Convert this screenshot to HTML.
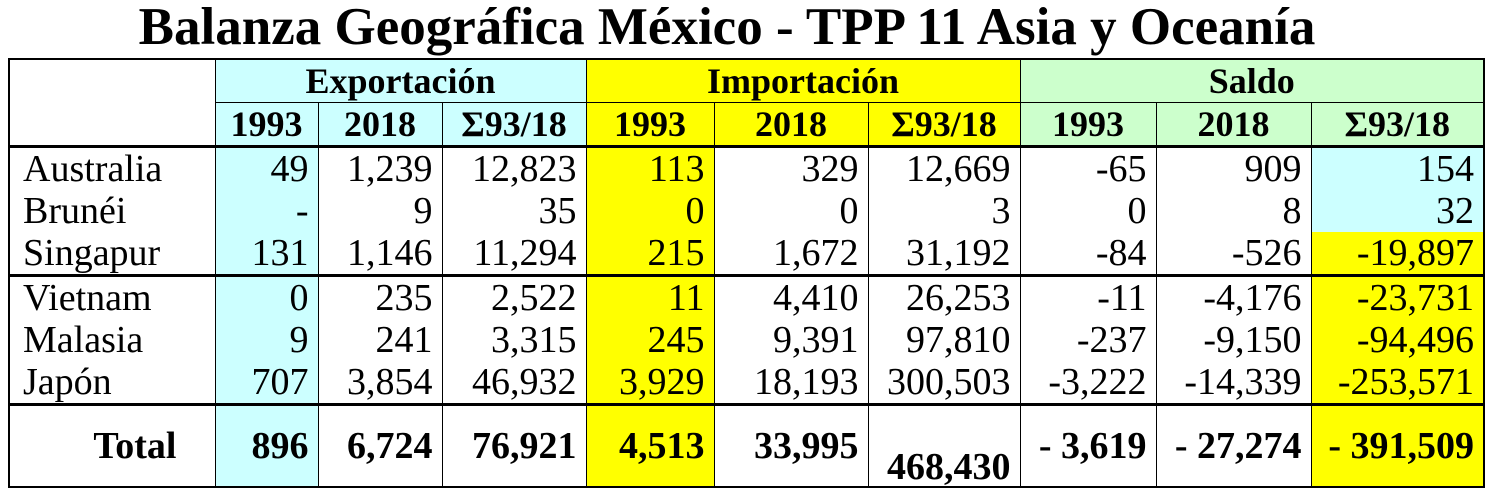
<!DOCTYPE html>
<html><head><meta charset="utf-8"><style>
html,body{margin:0;padding:0;background:#fff;width:1490px;height:498px;overflow:hidden}
body{font-family:"Liberation Serif",serif;color:#000;position:relative}
.t{position:absolute;left:-18px;top:-4px;width:1490px;text-align:center;font-weight:bold;font-size:53px;line-height:62px}
table{position:absolute;left:8px;top:58px;border-collapse:collapse;table-layout:fixed}
td{border-left:1px solid #000;border-right:1px solid #000;padding:0 9px 0 0;text-align:right;font-size:38px;height:42px;line-height:42px;white-space:nowrap;overflow:hidden}
.h td{text-align:center;font-weight:bold;padding:0;font-size:36px}
.c{background:#ccffff}.y{background:#ffff00}.g{background:#ccffcc}
td.l{text-align:left;padding-left:13px}
tr.thick td{border-top:3px solid #000}
tr.tot td{height:78px;font-weight:bold;line-height:78px}
</style></head><body>
<div class="t">Balanza Geográfica México - TPP 11 Asia y Oceanía</div>
<table style="border:2px solid #000">
<colgroup><col style="width:206px"><col style="width:103px"><col style="width:124px"><col style="width:144px"><col style="width:128px"><col style="width:154px"><col style="width:152px"><col style="width:136px"><col style="width:155px"><col style="width:173px"></colgroup>
<tr class="h"><td style="border-bottom:none"></td><td class="c" colspan="3" style="height:42px">Exportación</td><td class="y" colspan="3">Importación</td><td class="g" colspan="3">Saldo</td></tr>
<tr class="h"><td style="border-top:none"></td><td class="c" style="border-top:1px solid #000">1993</td><td class="c" style="border-top:1px solid #000">2018</td><td class="c" style="border-top:1px solid #000">Σ93/18</td><td class="y" style="border-top:1px solid #000">1993</td><td class="y" style="border-top:1px solid #000">2018</td><td class="y" style="border-top:1px solid #000">Σ93/18</td><td class="g" style="border-top:1px solid #000">1993</td><td class="g" style="border-top:1px solid #000">2018</td><td class="g" style="border-top:1px solid #000">Σ93/18</td></tr>
<tr class="thick"><td class="l">Australia</td><td class="c">49</td><td>1,239</td><td>12,823</td><td class="y">113</td><td>329</td><td>12,669</td><td>-65</td><td>909</td><td class="c">154</td></tr>
<tr><td class="l">Brunéi</td><td class="c">-</td><td>9</td><td>35</td><td class="y">0</td><td>0</td><td>3</td><td>0</td><td>8</td><td class="c">32</td></tr>
<tr><td class="l">Singapur</td><td class="c">131</td><td>1,146</td><td>11,294</td><td class="y">215</td><td>1,672</td><td>31,192</td><td>-84</td><td>-526</td><td class="y">-19,897</td></tr>
<tr class="thick"><td class="l">Vietnam</td><td class="c">0</td><td>235</td><td>2,522</td><td class="y">11</td><td>4,410</td><td>26,253</td><td>-11</td><td>-4,176</td><td class="y">-23,731</td></tr>
<tr><td class="l">Malasia</td><td class="c">9</td><td>241</td><td>3,315</td><td class="y">245</td><td>9,391</td><td>97,810</td><td>-237</td><td>-9,150</td><td class="y">-94,496</td></tr>
<tr><td class="l">Japón</td><td class="c">707</td><td>3,854</td><td>46,932</td><td class="y">3,929</td><td>18,193</td><td>300,503</td><td>-3,222</td><td>-14,339</td><td class="y">-253,571</td></tr>
<tr class="thick tot"><td style="padding-right:38px">Total</td><td class="c">896</td><td>6,724</td><td>76,921</td><td class="y">4,513</td><td>33,995</td><td style="line-height:34px;vertical-align:bottom;padding-bottom:2px">468,430</td><td>- 3,619</td><td>- 27,274</td><td class="y">- 391,509</td></tr>
</table>
</body></html>
